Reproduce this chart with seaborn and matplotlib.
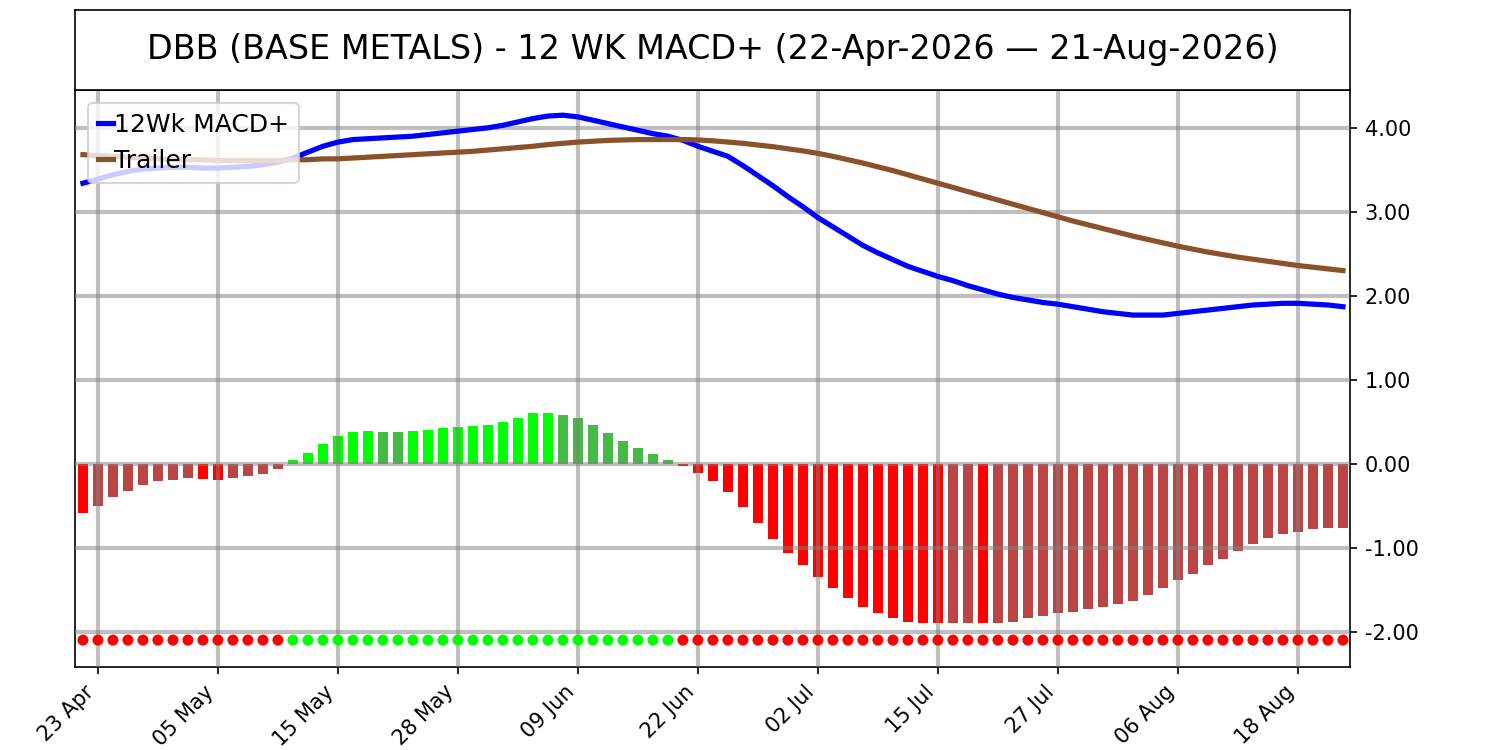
import numpy as np
import pandas as pd
import matplotlib
matplotlib.use('Agg')
import matplotlib.pyplot as plt
import seaborn as sns

# Данные, 85 торговых дней 22-Apr-2026 .. 21-Aug-2026
macd = [3.34, 3.39, 3.44, 3.48, 3.51, 3.52, 3.53, 3.53, 3.52, 3.52,
        3.53, 3.54, 3.56, 3.59, 3.64, 3.71, 3.78, 3.83, 3.86, 3.87,
        3.88, 3.89, 3.90, 3.92, 3.94, 3.96, 3.98, 4.00, 4.03, 4.07,
        4.11, 4.14, 4.15, 4.13, 4.09, 4.05, 4.01, 3.97, 3.93, 3.90,
        3.85, 3.78, 3.72, 3.66, 3.55, 3.43, 3.31, 3.18, 3.06, 2.93,
        2.82, 2.71, 2.60, 2.51, 2.43, 2.35, 2.29, 2.23, 2.18, 2.12,
        2.07, 2.02, 1.98, 1.95, 1.92, 1.90, 1.87, 1.84, 1.81, 1.79,
        1.77, 1.77, 1.77, 1.79, 1.81, 1.83, 1.85, 1.87, 1.89, 1.90,
        1.91, 1.91, 1.90, 1.89, 1.87]

trailer = [3.68, 3.67, 3.66, 3.65, 3.64, 3.63, 3.62, 3.62, 3.62, 3.61,
           3.61, 3.61, 3.61, 3.61, 3.62, 3.62, 3.63, 3.63, 3.64, 3.65,
           3.66, 3.67, 3.68, 3.69, 3.70, 3.71, 3.72, 3.735, 3.75, 3.765,
           3.78, 3.80, 3.815, 3.83, 3.84, 3.85, 3.855, 3.86, 3.86, 3.86,
           3.86, 3.855, 3.845, 3.83, 3.815, 3.795, 3.775, 3.75, 3.725, 3.695,
           3.66, 3.62, 3.58, 3.535, 3.49, 3.44, 3.39, 3.34, 3.29, 3.24,
           3.19, 3.14, 3.09, 3.04, 2.99, 2.94, 2.89, 2.845, 2.80, 2.755,
           2.71, 2.67, 2.63, 2.59, 2.555, 2.52, 2.49, 2.46, 2.435, 2.41,
           2.385, 2.36, 2.34, 2.32, 2.30]

hist = [-0.59, -0.50, -0.40, -0.32, -0.25, -0.20, -0.19, -0.17, -0.185, -0.19,
        -0.17, -0.15, -0.12, -0.06, 0.04, 0.13, 0.24, 0.33, 0.38, 0.39,
        0.38, 0.375, 0.39, 0.40, 0.43, 0.44, 0.45, 0.46, 0.50, 0.55,
        0.60, 0.61, 0.58, 0.54, 0.46, 0.37, 0.27, 0.19, 0.12, 0.05,
        -0.03, -0.11, -0.21, -0.34, -0.52, -0.71, -0.90, -1.06, -1.21, -1.35,
        -1.48, -1.60, -1.70, -1.78, -1.84, -1.88, -1.895, -1.90, -1.899, -1.898,
        -1.901, -1.897, -1.88, -1.84, -1.81, -1.78, -1.76, -1.73, -1.71, -1.67,
        -1.63, -1.56, -1.48, -1.39, -1.31, -1.21, -1.13, -1.04, -0.96, -0.89,
        -0.84, -0.81, -0.78, -0.77, -0.76]

signal_level = -2.1

tick_labels = ['23 Apr', '05 May', '15 May', '28 May', '09 Jun', '22 Jun',
               '02 Jul', '15 Jul', '27 Jul', '06 Aug', '18 Aug']

title = 'DBB (BASE METALS) - 12 WK MACD+ (22-Apr-2026 \u2014 21-Aug-2026)'

# Таблица
df = pd.DataFrame({'idx': np.arange(len(hist)), 'macd': macd,
                   'trailer': trailer, 'hist': hist})
prev = df['hist'].shift(1)
falling = (df['hist'] < prev) | prev.isna()
df['state'] = np.where(df['hist'] < 0,
                       np.where(falling, 'neg_down', 'neg_up'),
                       np.where(falling, 'pos_down', 'pos_up'))
df['sign'] = np.where(df['hist'] < 0, 'neg', 'pos')
df['signal'] = signal_level

bar_palette = {'neg_down': '#ff0000', 'neg_up': '#bb4444',
               'pos_up': '#00ff00', 'pos_down': '#44bb44'}
dot_palette = {'neg': '#ff0000', 'pos': '#00ff00'}

fig = plt.figure(figsize=(10, 5), dpi=150)
ax = fig.add_axes([0.05, 0.1107, 0.85, 0.7693])
tax = fig.add_axes([0.05, 0.88, 0.85, 0.1067])

# Гистограмма
ax.bar(df['idx'], df['hist'], width=0.72,
       color=df['state'].map(bar_palette), zorder=2)

# Линии
sns.lineplot(data=df, x='idx', y='macd', color='blue', lw=2.5,
             label='12Wk MACD+', ax=ax, zorder=3)
sns.lineplot(data=df, x='idx', y='trailer', color='#8b5229', lw=2.5,
             label='Trailer', ax=ax, zorder=3)

# Точки сигнала
sns.scatterplot(data=df, x='idx', y='signal', hue='sign', palette=dot_palette,
                s=28, linewidth=0, legend=False, ax=ax, zorder=3)

ax.set_xlim(-0.53, 84.47)
ax.set_ylim(-2.42, 4.45)
ax.set_xticks(np.arange(1, len(hist), 8))
ax.set_xticklabels(tick_labels, rotation=45, ha='right', fontsize=10)
ax.set_yticks([-2, -1, 0, 1, 2, 3, 4])
ax.yaxis.set_major_formatter(matplotlib.ticker.FormatStrFormatter('%.2f'))
ax.yaxis.tick_right()
ax.set_xlabel('')
ax.set_ylabel('')
ax.grid(True, color='gray', alpha=0.5, lw=2)
ax.set_axisbelow(False)
ax.legend(loc='upper left', fontsize=12, handlelength=0.6, handletextpad=0.05)

# Заголовок в рамке
tax.set_xticks([])
tax.set_yticks([])
tax.text(0.5, 0.5, title, ha='center', va='center', fontsize=16,
         transform=tax.transAxes)

fig.savefig('out.png', dpi=150)
